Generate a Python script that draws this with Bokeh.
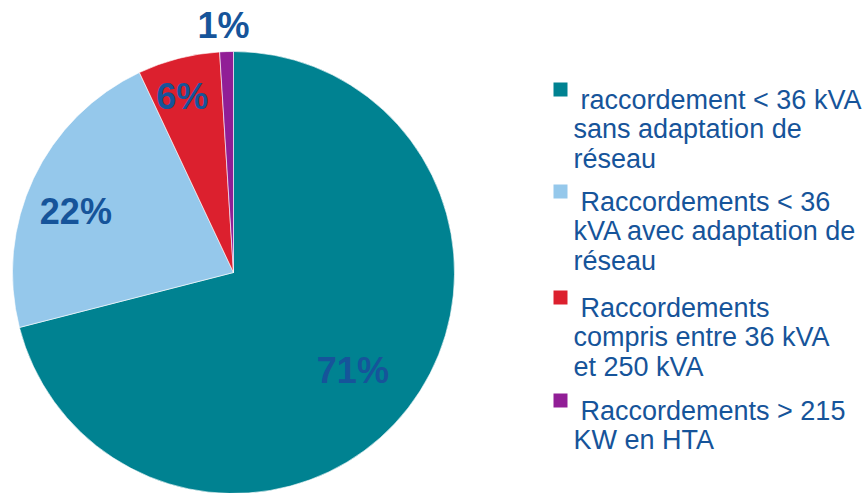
import math
from bokeh.plotting import figure
from bokeh.models import Range1d, ColumnDataSource
from bokeh.core.properties import value
from bokeh.embed import file_html
from bokeh.resources import INLINE

# ---- data ----
categories = [
    "raccordement < 36 kVA\nsans adaptation de\nréseau",
    "Raccordements  < 36\nkVA avec  adaptation de\nréseau",
    "Raccordements\ncompris entre  36 kVA\net 250 kVA",
    "Raccordements > 215\nKW en HTA",
]
shares = [71, 22, 6, 1]
pct_labels = ["71%", "22%", "6%", "1%"]
colors = ["#008291", "#95C8EB", "#DC202E", "#911E96"]

W, H = 865, 493
TEXT_COLOR = "#16549A"
FONT = "Liberation Sans"

p = figure(width=W, height=H, output_backend="svg", toolbar_location=None,
           x_range=Range1d(0, W), y_range=Range1d(0, H), min_border=0)
p.axis.visible = False
p.grid.visible = False
p.outline_line_color = None
p.background_fill_color = "white"
p.border_fill_color = "white"

# pie geometry (screen px; y converted to data as H - sy)
cx, cy_s, R = 233, 272, 221
cy = H - cy_s
total = sum(shares)
starts, ends, mids = [], [], []
acc = 0.0
for s in shares:
    a0 = math.pi / 2 - 2 * math.pi * acc / total
    acc += s
    a1 = math.pi / 2 - 2 * math.pi * acc / total
    starts.append(a0)
    ends.append(a1)
    mids.append((a0 + a1) / 2)

src = ColumnDataSource(dict(start=starts, end=ends, color=colors))
p.wedge(x=cx, y=cy, radius=R, radius_units="screen", start_angle="start",
        end_angle="end", direction="clock", fill_color="color",
        line_color="white", line_width=0.6, source=src)

# percentage labels (radial factor and small angular nudge, degrees)
rfac = [0.70, 0.765, 0.83, 1.118]
nudge = [-1.7, 4.0, 1.8, 0.5]
lx, ly = [], []
for f, m, d in zip(rfac, mids, nudge):
    a = m + math.radians(d)
    lx.append(cx + R * f * math.cos(a))
    ly.append(cy + R * f * math.sin(a))
p.text(x=lx, y=ly, text=pct_labels, text_align="center", text_baseline="middle",
       text_font=value(FONT), text_font_style="bold", text_font_size="36px",
       text_color=TEXT_COLOR)

# legend
first_baselines = [99, 201, 307, 410]
line_step = 29.5
sq_size = 14
sq_x = 553
tx, ty, tt = [], [], []
for i, cat in enumerate(categories):
    for j, line in enumerate(cat.split("\n")):
        tx.append(580 if j == 0 else 573)
        ty.append(H - (first_baselines[i] + j * line_step))
        tt.append(line)
sq_cx = [sq_x + sq_size / 2] * len(categories)
sq_cy = [H - (b - 10) for b in first_baselines]
p.rect(x=sq_cx, y=sq_cy, width=sq_size, height=sq_size, width_units="screen",
       height_units="screen", fill_color=colors, line_color=None)
p.text(x=tx, y=ty, text=tt, text_align="left", text_baseline="alphabetic",
       text_font=value(FONT), text_font_size="27px", text_color=TEXT_COLOR)

open("out.html", "w").write(file_html(p, INLINE))
